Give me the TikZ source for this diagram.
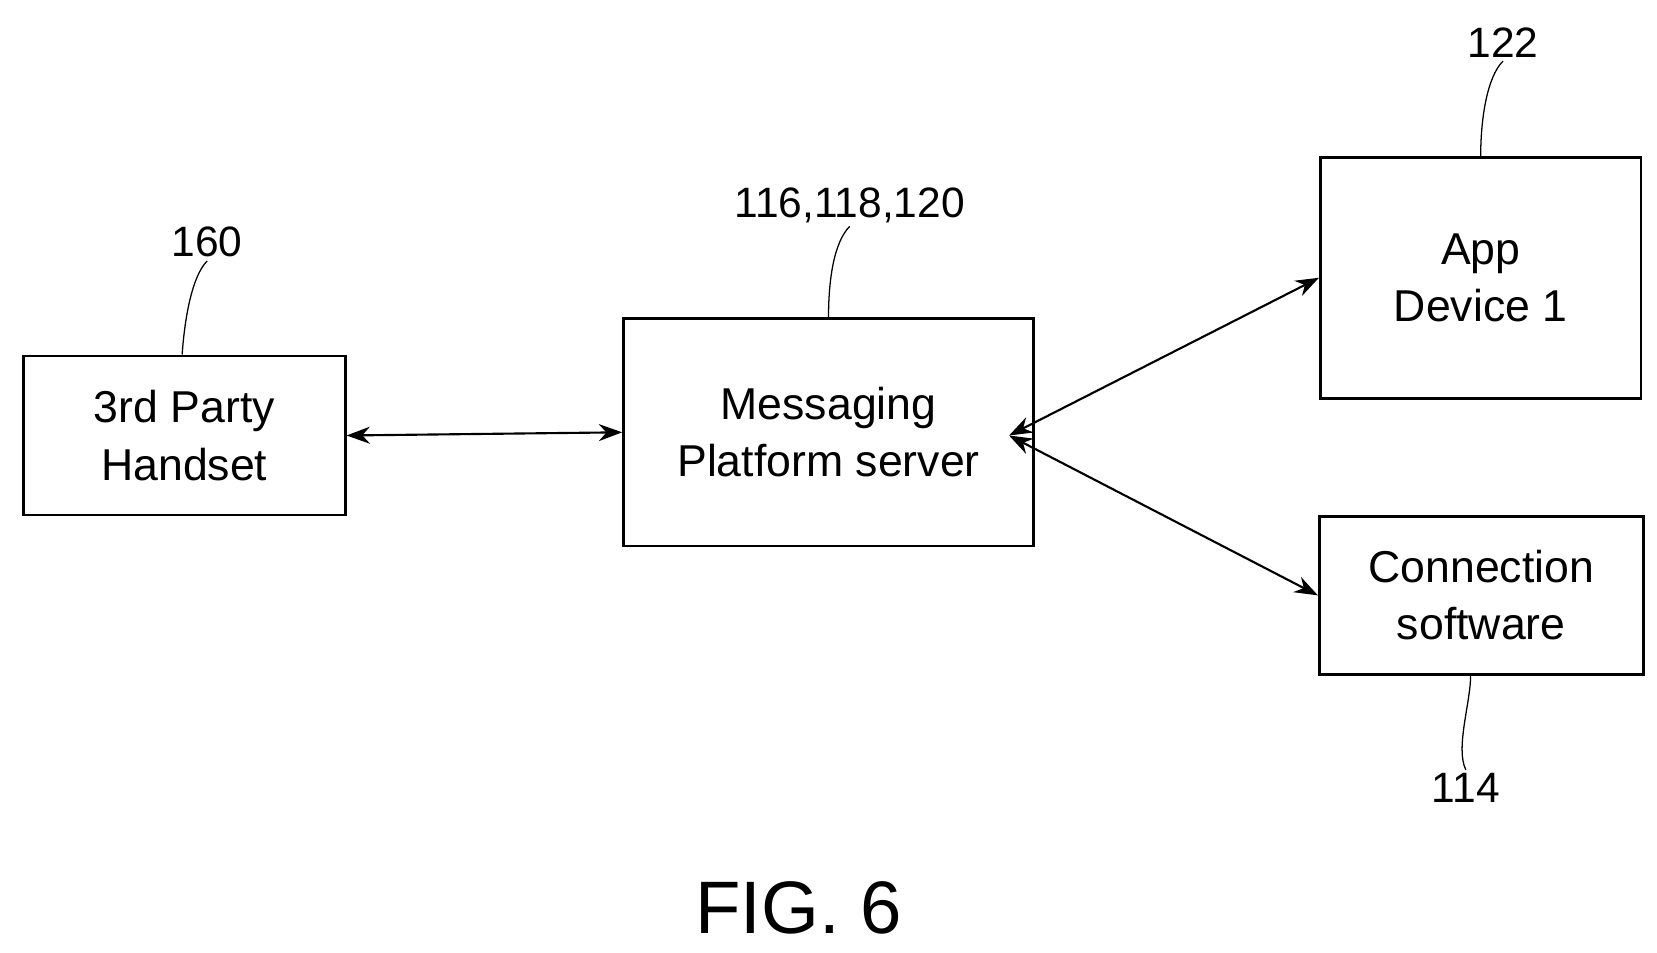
\documentclass[tikz,border=0pt]{standalone}
\usepackage{fontspec}
\setmainfont{Liberation Sans}
\usetikzlibrary{arrows.meta}
\begin{document}
\begin{tikzpicture}[x=1pt,y=-1pt,
  box/.style={draw,line width=2.5pt,inner sep=0pt,font=\fontsize{42}{54}\selectfont,align=center},
  lab/.style={font=\fontsize{40}{48}\selectfont},
  lead/.style={line width=1.2pt},
  arr/.style={line width=2pt,{Stealth[length=22pt,width=16pt]}-{Stealth[length=22pt,width=16pt]}}]
\useasboundingbox (0,0) rectangle (1560,897);
\node[box,minimum width=303pt,minimum height=150pt] (h) at (173.5,410) {3rd Party\\Handset};
\node[box,minimum width=386pt,minimum height=214pt] (m) at (780,407) {Messaging\\Platform server};
\node[box,minimum width=302pt,minimum height=227pt] (a) at (1394,261.5) {App\\Device 1};
\node[box,minimum width=305pt,minimum height=149pt] (c) at (1394.5,560.5) {Connection\\software};
\node[lab] (l160) at (195,228) {160};
\node[lab] (l116) at (800,193) {116,118,120};
\node[lab] (l122) at (1415,40) {122};
\node[lab] (l114) at (1380,742) {114};
\node[font=\fontsize{70}{80}\selectfont] (fig) at (752,855) {FIG. 6};
\draw[lead] (h.north) ++(-2,0) .. controls +(2,-30) and +(-15,15) .. (l160.south);
\draw[lead] (m.north) .. controls +(0,-35) and +(-15,15) .. (l116.south);
\draw[lead] (a.north) .. controls +(0,-35) and +(-15,15) .. (l122.south);
\draw[lead] (c.south) ++(-10,0) .. controls +(0,25) and +(-10,-20) .. (l114.north);
\coordinate (p) at (950,410);
\draw[arr] (h.east) -- (m.west);
\draw[arr] (p) -- (a.west);
\draw[arr] (p) -- (c.west);
\end{tikzpicture}
\end{document}
